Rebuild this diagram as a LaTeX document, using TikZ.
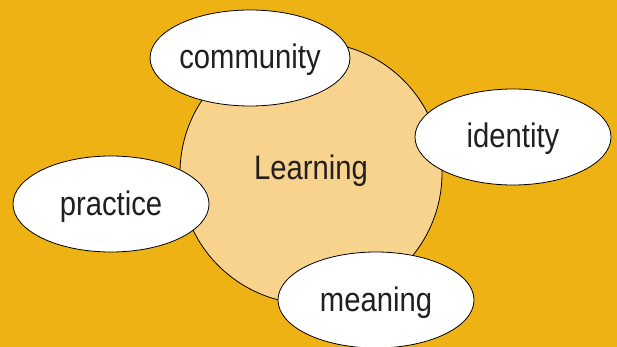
\documentclass[tikz,border=0pt]{standalone}
\usepackage{fontspec}
\setmainfont{Liberation Sans}[FakeStretch=0.86]
\usetikzlibrary{shapes.geometric}
\definecolor{bgorange}{RGB}{239,178,20}
\definecolor{lightorange}{RGB}{247,211,142}
\definecolor{ink}{RGB}{35,31,32}
\newcommand{\bubblefont}{\fontsize{34}{40}\selectfont}

\begin{document}
\begin{tikzpicture}[x=1pt, y=-1pt,
    bubble/.style={ellipse, draw=black, line width=0.8pt, fill=white,
        minimum width=196pt, minimum height=96pt, inner sep=0pt,
        text height=22pt, text depth=0pt, text=ink, font=\bubblefont}]
            % Draw the background
            \fill[bgorange] (0,0) rectangle (617,347);
            \useasboundingbox (0,0) rectangle (617,347);

            % Draw the learning circle
            \node (learn) [circle, draw=black, line width=0.8pt, fill=lightorange,
                minimum size=262pt, inner sep=0pt] at (311,173) {};
            \node (learntext) [anchor=base, text=ink, font=\bubblefont] at (311,180) {Learning};

            % Draw the four bubbles
            \node (community) [bubble] at (250,58) {community};
            \node (identity) [bubble] at (513,137) {identity};
            \node (practice) [bubble] at (111,204) {practice};
            \node (meaning) [bubble] at (376,300) {meaning};

        \end{tikzpicture}
\end{document}
